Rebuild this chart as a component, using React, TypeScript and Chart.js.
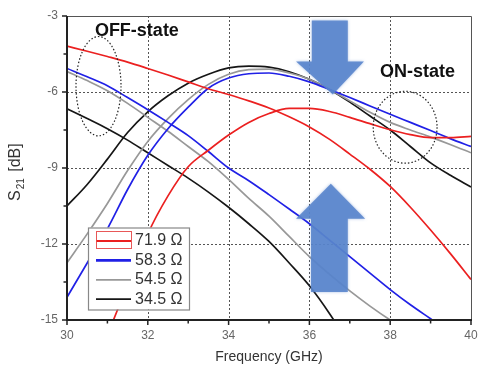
import React, { useEffect, useRef } from "react";
import { Chart, registerables } from "chart.js";

Chart.register(...registerables);

// Frequency (GHz)
const freqs = [30, 30.5, 31, 31.5, 32, 32.5, 33, 33.5, 34, 34.5, 35, 35.5, 36, 36.5, 37, 37.5, 38, 38.5, 39, 39.5, 40];

// OFF-state S21 (dB)
const redOff = [-4.19, -4.39, -4.6, -4.82, -5.07, -5.33, -5.6, -5.87, -6.1, -6.35, -6.63, -6.98, -7.38, -7.87, -8.45, -9.05, -9.73, -10.55, -11.45, -12.4, -13.4];
const blueOff = [-5.07, -5.4, -5.75, -6.22, -6.7, -7.2, -7.72, -8.35, -9.0, -9.5, -10.05, -10.62, -11.2, -11.85, -12.5, -13.15, -13.8, -14.4, -14.95, -15.5, -16.0];
const grayOff = [-5.19, -5.55, -5.95, -6.45, -7.0, -7.55, -8.15, -8.75, -9.45, -10.2, -10.9, -11.7, -12.5, -13.2, -13.85, -14.45, -15.0, -15.5, -16.0, -16.5, -17.0];
const blackOff = [-6.66, -7.05, -7.45, -7.9, -8.4, -8.9, -9.4, -9.95, -10.55, -11.2, -11.9, -12.75, -13.65, -14.75, -16.0, -17.3, null, null, null, null, null];

// ON-state S21 (dB)
const redOn = [null, null, -15.6, -13.6, -11.6, -10.1, -8.95, -8.3, -7.7, -7.2, -6.85, -6.65, -6.65, -6.77, -7.0, -7.25, -7.49, -7.68, -7.8, -7.8, -7.75];
const blueOn = [-14.1, -12.75, -11.4, -9.85, -8.5, -7.45, -6.6, -5.85, -5.45, -5.28, -5.25, -5.38, -5.6, -5.9, -6.22, -6.55, -6.88, -7.2, -7.52, -7.85, -8.15];
const grayOn = [-12.74, -11.6, -10.4, -9.1, -7.95, -7.05, -6.3, -5.7, -5.3, -5.12, -5.1, -5.25, -5.5, -5.9, -6.35, -6.8, -7.2, -7.5, -7.78, -8.08, -8.4];
const blackOn = [-10.5, -9.65, -8.65, -7.6, -6.78, -6.15, -5.65, -5.3, -5.05, -4.98, -5.02, -5.2, -5.5, -5.9, -6.4, -6.95, -7.5, -8.15, -8.8, -9.3, -9.75];

const legendLabels = ["71.9 \u03A9", "58.3 \u03A9", "54.5 \u03A9", "34.5 \u03A9"];
const xTicks = [30, 32, 34, 36, 38, 40];
const yTicks = [-15, -12, -9, -6, -3];

const RED = "rgb(235,32,32)";
const BLUE = "rgb(32,32,230)";
const GRAY = "rgb(152,152,152)";
const BLACK = "rgb(22,22,22)";
const colors = [RED, BLUE, GRAY, BLACK];

const toPts = (arr: (number | null)[]) => freqs.map((f, i) => ({ x: f, y: arr[i] }));

const decor = {
  id: "decor",
  beforeDatasetsDraw(chart: any) {
    const { ctx, chartArea: a, scales } = chart;
    const xs = scales.x, ys = scales.y;
    ctx.save();
    ctx.strokeStyle = "#555";
    ctx.lineWidth = 1;
    ctx.setLineDash([2, 2]);
    [32, 34, 36, 38].forEach((v) => {
      const px = Math.round(xs.getPixelForValue(v)) + 0.5;
      ctx.beginPath();
      ctx.moveTo(px, a.top);
      ctx.lineTo(px, a.bottom);
      ctx.stroke();
    });
    [-6, -9, -12].forEach((v) => {
      const py = Math.round(ys.getPixelForValue(v)) + 0.5;
      ctx.beginPath();
      ctx.moveTo(a.left, py);
      ctx.lineTo(a.right, py);
      ctx.stroke();
    });
    ctx.restore();
  },
  afterDatasetsDraw(chart: any) {
    const { ctx, chartArea: a, scales } = chart;
    const xs = scales.x, ys = scales.y;
    const X = (v: number) => xs.getPixelForValue(v);
    const Y = (v: number) => ys.getPixelForValue(v);

    // Arrows
    ctx.save();
    ctx.fillStyle = "rgba(88,132,204,0.88)";
    ctx.shadowColor = "rgba(88,132,204,0.6)";
    ctx.shadowBlur = 3;
    ctx.beginPath();
    ctx.moveTo(X(36.06), Y(-3.18));
    ctx.lineTo(X(36.95), Y(-3.18));
    ctx.lineTo(X(36.95), Y(-4.8));
    ctx.lineTo(X(37.35), Y(-4.8));
    ctx.lineTo(X(36.58), Y(-6.1));
    ctx.lineTo(X(35.67), Y(-4.8));
    ctx.lineTo(X(36.06), Y(-4.8));
    ctx.closePath();
    ctx.fill();
    ctx.beginPath();
    ctx.moveTo(X(36.04), Y(-13.89));
    ctx.lineTo(X(36.95), Y(-13.89));
    ctx.lineTo(X(36.95), Y(-11.0));
    ctx.lineTo(X(37.38), Y(-11.0));
    ctx.lineTo(X(36.53), Y(-9.62));
    ctx.lineTo(X(35.67), Y(-11.0));
    ctx.lineTo(X(36.04), Y(-11.0));
    ctx.closePath();
    ctx.fill();
    ctx.restore();

    // Dotted ellipses
    ctx.save();
    ctx.strokeStyle = "#222";
    ctx.lineWidth = 1.2;
    ctx.setLineDash([1.5, 2]);
    const ell = (cx: number, cy: number, rx: number, ry: number) => {
      const x0 = X(cx), y0 = Y(cy);
      const rxp = Math.abs(X(cx + rx) - x0), ryp = Math.abs(Y(cy + ry) - y0);
      ctx.beginPath();
      ctx.ellipse(x0, y0, rxp, ryp, 0, 0, Math.PI * 2);
      ctx.stroke();
    };
    ell(30.78, -5.77, 0.557, 1.96);
    ell(38.37, -7.39, 0.79, 1.42);
    ctx.restore();

    // Annotation texts
    ctx.save();
    ctx.fillStyle = "#111";
    ctx.font = "bold 18px 'Liberation Sans', Arial, sans-serif";
    ctx.textBaseline = "middle";
    ctx.textAlign = "left";
    ctx.fillText("OFF-state", X(30.69), Y(-3.61));
    ctx.fillText("ON-state", X(37.75), Y(-5.23));
    ctx.restore();

    // Legend
    ctx.save();
    const lx = a.left + 21, ly = a.top + 211.5, lw = 101, lh = 82;
    ctx.fillStyle = "#fff";
    ctx.fillRect(lx, ly, lw, lh);
    ctx.strokeStyle = "#888";
    ctx.lineWidth = 1.2;
    ctx.strokeRect(lx + 0.5, ly + 0.5, lw, lh);
    ctx.font = "16px 'Liberation Sans', Arial, sans-serif";
    ctx.textBaseline = "middle";
    ctx.textAlign = "left";
    legendLabels.forEach((lab, i) => {
      const ry = ly + 13.5 + i * 19.4;
      ctx.strokeStyle = colors[i];
      ctx.lineWidth = i === 1 ? 2.6 : 1.8;
      ctx.beginPath();
      ctx.moveTo(lx + 8, ry);
      ctx.lineTo(lx + 43, ry);
      ctx.stroke();
      if (i === 0) {
        ctx.strokeStyle = "rgba(230,70,70,0.9)";
        ctx.lineWidth = 1;
        ctx.strokeRect(lx + 8.5, ry - 9.5, 35, 17);
      }
      ctx.fillStyle = "#333";
      ctx.fillText(lab, lx + 47, ry);
    });
    ctx.restore();

    // Frame
    ctx.save();
    ctx.strokeStyle = "#555";
    ctx.lineWidth = 1;
    ctx.beginPath();
    ctx.moveTo(a.left, a.top + 0.5);
    ctx.lineTo(a.right + 0.5, a.top + 0.5);
    ctx.lineTo(a.right + 0.5, a.bottom);
    ctx.stroke();
    ctx.strokeStyle = "#222";
    ctx.lineWidth = 2;
    ctx.beginPath();
    ctx.moveTo(a.left, a.top);
    ctx.lineTo(a.left, a.bottom);
    ctx.lineTo(a.right + 1, a.bottom);
    ctx.stroke();
    ctx.lineWidth = 1.5;
    for (let v = 30; v <= 40; v += 1) {
      const px = X(v);
      const len = v % 2 === 0 ? 5 : 3.5;
      ctx.beginPath();
      ctx.moveTo(px, a.bottom);
      ctx.lineTo(px, a.bottom + len);
      ctx.stroke();
    }
    for (let v = -15; v <= -3; v += 1.5) {
      const py = Y(v);
      const major = Math.abs(v % 3) < 0.01;
      ctx.beginPath();
      ctx.moveTo(a.left, py);
      ctx.lineTo(a.left - (major ? 5 : 3.5), py);
      ctx.stroke();
    }
    ctx.restore();

    // Axis titles
    ctx.save();
    ctx.fillStyle = "#333";
    ctx.font = "14px 'Liberation Sans', Arial, sans-serif";
    ctx.textAlign = "center";
    ctx.textBaseline = "middle";
    ctx.fillText("Frequency (GHz)", (a.left + a.right) / 2, 357);
    ctx.translate(20, 201);
    ctx.rotate(-Math.PI / 2);
    ctx.textAlign = "left";
    ctx.textBaseline = "alphabetic";
    ctx.font = "16px 'Liberation Sans', Arial, sans-serif";
    ctx.fillText("S", 0, 0);
    const sw = ctx.measureText("S").width;
    ctx.font = "10px 'Liberation Sans', Arial, sans-serif";
    ctx.fillText("21", sw + 1, 4);
    const subw = ctx.measureText("21").width;
    ctx.font = "16px 'Liberation Sans', Arial, sans-serif";
    ctx.fillText(" [dB]", sw + subw + 3, 0);
    ctx.restore();
  },
};

export default function App() {
  const ref = useRef<HTMLCanvasElement | null>(null);
  useEffect(() => {
    document.body.style.margin = "0";
    if (!ref.current) return;
    const mk = (arr: (number | null)[], color: string) => ({
      data: toPts(arr),
      borderColor: color,
      backgroundColor: color,
      borderWidth: 1.7,
      pointRadius: 0,
      fill: false,
      cubicInterpolationMode: "monotone" as const,
      spanGaps: false,
    });
    const chart = new Chart(ref.current, {
      type: "line",
      data: {
        datasets: [
          mk(redOff, RED),
          mk(redOn, RED),
          mk(blueOff, BLUE),
          mk(blueOn, BLUE),
          mk(grayOff, GRAY),
          mk(grayOn, GRAY),
          mk(blackOff, BLACK),
          mk(blackOn, BLACK),
        ],
      },
      options: {
        animation: false,
        responsive: false,
        devicePixelRatio: 1,
        layout: { padding: { top: 16, right: 7, left: 0, bottom: 0 } },
        plugins: { legend: { display: false }, tooltip: { enabled: false } },
        scales: {
          x: {
            type: "linear",
            min: 30,
            max: 40,
            afterBuildTicks: (s: any) => {
              s.ticks = xTicks.map((v) => ({ value: v }));
            },
            afterFit: (s: any) => {
              s.height = 47;
              s.paddingLeft = 0;
              s.paddingRight = 0;
            },
            grid: { display: false, drawTicks: false },
            border: { display: false },
            ticks: {
              padding: 8,
              color: "#666",
              font: { size: 12, family: "'Liberation Sans', Arial, sans-serif" },
              maxRotation: 0,
            },
          },
          y: {
            type: "linear",
            min: -15,
            max: -3,
            afterBuildTicks: (s: any) => {
              s.ticks = yTicks.map((v) => ({ value: v }));
            },
            afterFit: (s: any) => {
              s.width = 67;
              s.paddingTop = 0;
              s.paddingBottom = 0;
            },
            grid: { display: false, drawTicks: false },
            border: { display: false },
            ticks: {
              padding: 9,
              color: "#666",
              font: { size: 12, family: "'Liberation Sans', Arial, sans-serif" },
            },
          },
        },
      },
      plugins: [decor],
    });
    return () => chart.destroy();
  }, []);
  return <canvas ref={ref} width={478} height={367} style={{ display: "block", width: 478, height: 367 }} />;
}
